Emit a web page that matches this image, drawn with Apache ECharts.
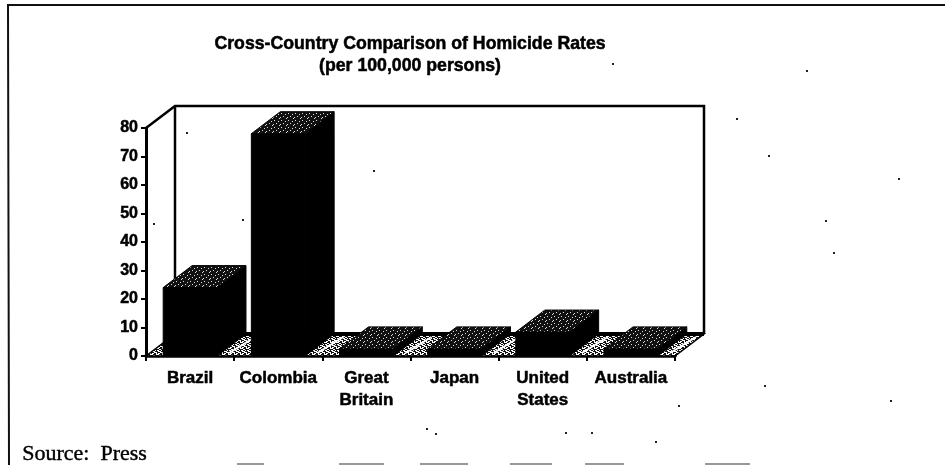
<!DOCTYPE html>
<html>
<head>
<meta charset="utf-8">
<title>Homicide rates</title>
<script src="https://cdn.jsdelivr.net/npm/echarts@6/dist/echarts.min.js"></script>
<style>
  html, body { margin: 0; padding: 0; background: #fff; }
  #chart { width: 945px; height: 465px; filter: blur(0.4px); }
</style>
</head>
<body>
<div id="chart"></div>
<script>
const countries = ['Brazil', 'Colombia', 'Great\nBritain', 'Japan', 'United\nStates', 'Australia'];
const rates = [24, 78, 2.5, 2.5, 8.4, 2.5];
const yTicks = { min: 0, max: 80, interval: 10 };

// scan dirt on the page, pixel positions
const specks = [[186,132],[153,223],[242,219],[373,170],[612,63],[736,118],[806,70],[768,155],[898,178],
  [825,220],[833,252],[764,385],[890,400],[678,405],[426,428],[435,433],[591,432],[655,441],[565,432]];
const bottomDashes = [[237,27],[339,45],[420,48],[510,42],[585,39],[705,45]];

const depthX = 29, depthY = 22, barShare = 0.61;

function tile(size, dots, bg, fg) {
  const c = document.createElement('canvas');
  c.width = c.height = size;
  const g = c.getContext('2d');
  g.fillStyle = bg;
  g.fillRect(0, 0, size, size);
  g.fillStyle = fg;
  dots.forEach(d => g.fillRect(d[0], d[1], 1, 1));
  return { image: c, repeat: 'repeat' };
}
const topFill = tile(7, [[1,1],[5,2],[3,4],[0,5],[6,6]], '#111', '#ddd');
const floorFill = tile(6, [[0,0],[1,0],[2,0],[3,1],[4,1],[1,2],[2,2],[5,2],[2,3],[3,3],[4,3],[0,4],[4,4],[5,4],[2,5],[3,5],[0,5]], '#111', '#fff');

function renderWalls(params, api) {
  const a = api.coord([0, 0]), size = api.size([1, 80]);
  const x0 = a[0] - size[0] / 2, y0 = a[1];
  const x1 = x0 + size[0] * countries.length, yTop = y0 - size[1];
  const line = { stroke: '#000', lineWidth: 2.5, fill: null };
  const children = [
    { type: 'polygon', shape: { points: [[x0, y0], [x1, y0], [x1 + depthX, y0 - depthY], [x0 + depthX, y0 - depthY]] },
      style: { fill: floorFill, stroke: '#000', lineWidth: 1.5 } }
  ];
  // white grid lines on the floor, one per tick
  countries.forEach((c, i) => {
    const x = x0 + size[0] * (i + 1);
    children.push({ type: 'line', shape: { x1: x - 5, y1: y0 - 3, x2: x + depthX - 8, y2: y0 - depthY + 3 }, style: { stroke: '#fff', lineWidth: 2 } });
  });
  children.push(
    { type: 'polyline', shape: { points: [[x0, yTop], [x0 + depthX, yTop - depthY], [x1 + depthX, yTop - depthY], [x1 + depthX, y0 - depthY]] }, style: line },
    { type: 'line', shape: { x1: x0 + depthX, y1: yTop - depthY, x2: x0 + depthX, y2: y0 - depthY }, style: line },
    { type: 'line', shape: { x1: x0 + depthX, y1: y0 - depthY, x2: x1 + depthX, y2: y0 - depthY }, style: { stroke: '#000', lineWidth: 4 } }
  );
  return { type: 'group', children };
}

function renderBar(params, api) {
  const base = api.coord([api.value(0), 0]);
  const top = api.coord([api.value(0), api.value(1)]);
  const w = api.size([1, 0])[0] * barShare;
  const l = base[0] - w / 2, r = base[0] + w / 2;
  const solid = { fill: '#000', stroke: '#000', lineWidth: 1 };
  return {
    type: 'group',
    children: [
      { type: 'rect', shape: { x: l, y: top[1], width: w, height: base[1] - top[1] }, style: solid },
      { type: 'polygon', shape: { points: [[r, base[1]], [r + depthX, base[1] - depthY], [r + depthX, top[1] - depthY], [r, top[1]]] }, style: solid },
      { type: 'polygon', shape: { points: [[l, top[1]], [r, top[1]], [r + depthX, top[1] - depthY], [l + depthX, top[1] - depthY]] },
        style: { fill: topFill, stroke: '#000', lineWidth: 1 } }
    ]
  };
}

const heavy = { textBorderColor: '#000', textBorderWidth: 0.5 };
const chart = echarts.init(document.getElementById('chart'));
chart.setOption({
  animation: false,
  backgroundColor: '#fff',
  textStyle: { fontFamily: 'Liberation Sans' },
  title: {
    text: 'Cross-Country Comparison of Homicide Rates\n(per 100,000 persons)',
    left: 405, top: 28, textAlign: 'center',
    textStyle: Object.assign({ fontSize: 17.7, fontWeight: 'bold', color: '#000', lineHeight: 22, fontFamily: 'Liberation Sans' }, heavy)
  },
  grid: { left: 146, right: 270, top: 128, bottom: 109 },
  xAxis: {
    type: 'category',
    data: countries,
    axisLine: { lineStyle: { color: '#000', width: 3.5 } },
    axisTick: { show: true, length: 5, lineStyle: { color: '#000', width: 2 } },
    axisLabel: Object.assign({ color: '#000', fontWeight: 'bold', fontSize: 17, lineHeight: 22, margin: 11, interval: 0 }, heavy),
    splitLine: { show: false }
  },
  yAxis: {
    type: 'value',
    min: yTicks.min, max: yTicks.max, interval: yTicks.interval,
    axisLine: { show: true, lineStyle: { color: '#000', width: 3 } },
    axisTick: { show: true, length: 5, lineStyle: { color: '#000', width: 2 } },
    axisLabel: Object.assign({ color: '#000', fontWeight: 'bold', fontSize: 16, margin: 8 }, heavy),
    splitLine: { show: false }
  },
  series: [
    { type: 'custom', z: 1, renderItem: renderWalls, data: [[0, 0]], silent: true },
    { type: 'custom', z: 3, renderItem: renderBar, encode: { x: 0, y: 1 }, data: rates.map((v, i) => [i, v]) }
  ],
  graphic: [
    { type: 'polyline', shape: { points: [[9, 465], [8, 5], [945, 5]] }, style: { stroke: '#111', lineWidth: 2, fill: null } },
    { type: 'text', left: 22, top: 443, style: { text: 'Source:  Press', font: '22px "Liberation Serif"', fill: '#000', stroke: '#000', lineWidth: 0.4 } }
  ].concat(specks.map(p => ({
    type: 'rect', shape: { x: p[0], y: p[1], width: 2, height: 2 }, style: { fill: '#222' }
  }))).concat(bottomDashes.map(d => ({
    type: 'rect', shape: { x: d[0], y: 463, width: d[1], height: 2 }, style: { fill: '#999' }
  })))
});
</script>
</body>
</html>
